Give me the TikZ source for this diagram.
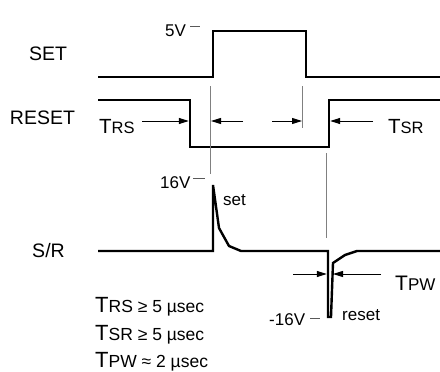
\documentclass[tikz,border=0pt]{standalone}
\usepackage{fontspec}
\setmainfont{Liberation Sans}
\usetikzlibrary{arrows.meta}
\newcommand{\Tlab}[3]{{\fontsize{#1}{#1}\selectfont T}{\fontsize{#2}{#2}\selectfont #3}}
\begin{document}
\begin{tikzpicture}[x=1pt,y=-1pt,
  sig/.style={line width=2.4pt, line join=miter},
  guide/.style={line width=0.9pt, draw=black!50},
  dim/.style={line width=1pt, -{Triangle[length=10pt,width=6pt]}},
  tickmark/.style={line width=0.9pt, draw=black!65},
  lbl/.style={inner sep=0pt, font=\fontsize{19.5}{22}\selectfont},
  vlbl/.style={inner sep=0pt, anchor=base west, font=\fontsize{17}{19}\selectfont},
  tlbl/.style={inner sep=0pt, anchor=base west},
]
\useasboundingbox (0,0) rectangle (440,372);

% signal names
\node[lbl] (setl) at (48,53.5) {SET};
\node[lbl] (resetl) at (42.5,118) {RESET};
\node[lbl] (srl) at (48.5,251) {S/R};

% waveforms
\draw[sig] (98,77) -- (213,77) -- (213,31) -- (306,31) -- (306,77) -- (440,77);
\draw[sig] (98,100) -- (190,100) -- (190,147) -- (329,147) -- (329,100) -- (440,100);
\draw[sig] (98,251) -- (213,251) -- (213,185) -- (219,228) -- (229,246) -- (241,251)
  -- (328,251) -- (328,317) -- (331,317) -- (333,263) -- (345,255) -- (357,251) -- (440,251);

% guide lines
\draw[guide] (210.5,86) -- (210.5,174);
\draw[guide] (302.5,86) -- (302.5,128);
\draw[guide] (326,153) -- (326,238);

% dimension arrows
\coordinate (trsA) at (142,121); \coordinate (trsB) at (188.8,121);
\coordinate (m1A) at (243,121);  \coordinate (m1B) at (211,121);
\coordinate (m2A) at (272,121);  \coordinate (m2B) at (302,121);
\coordinate (tsrA) at (373,121); \coordinate (tsrB) at (330.2,121);
\coordinate (pwA) at (293,274);  \coordinate (pwB) at (326.8,274);
\coordinate (pwC) at (381,274);  \coordinate (pwD) at (333,274);
\draw[dim] (trsA) -- (trsB);
\draw[dim] (m1A) -- (m1B);
\draw[dim] (m2A) -- (m2B);
\draw[dim] (tsrA) -- (tsrB);
\draw[dim] (pwA) -- (pwB);
\draw[dim] (pwC) -- (pwD);

% timing labels
\node[tlbl] (trs) at (99,133) {\Tlab{20.5}{16.5}{RS}};
\node[tlbl] (tsr) at (388,133) {\Tlab{20.5}{16.5}{SR}};
\node[tlbl] (tpw) at (395,290) {\Tlab{21}{17}{PW}};

% voltage labels and ticks
\node[vlbl] (v5) at (165,37) {5V};
\draw[tickmark] (190,26) -- (200,26);
\node[vlbl] (v16) at (160,188) {16V};
\draw[tickmark] (193,178) -- (205,178);
\node[vlbl] (vm16) at (269,325) {-16V};
\draw[tickmark] (310,318) -- (320,318);
\node[vlbl] (setw) at (223,205) {set};
\node[vlbl] (resetw) at (342,320) {reset};

% specifications
\node[tlbl] (spec1) at (95,312.5) {\Tlab{22}{17.5}{RS ≥ 5 µsec}};
\node[tlbl] (spec2) at (95,340) {\Tlab{22}{17.5}{SR ≥ 5 µsec}};
\node[tlbl] (spec3) at (95,367.5) {\Tlab{22}{17.5}{PW ≈ 2 µsec}};
\end{tikzpicture}
\end{document}
